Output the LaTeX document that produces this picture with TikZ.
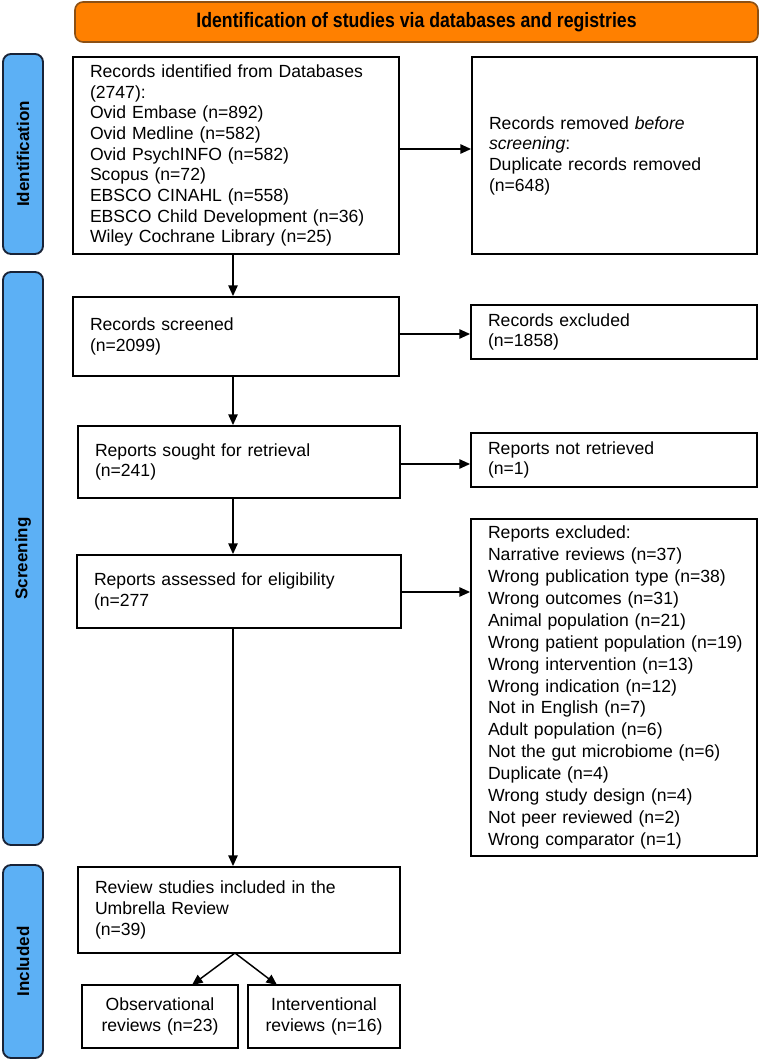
\documentclass[tikz,border=0pt]{standalone}
\usepackage{fontspec}
\setmainfont{Liberation Sans}
\usepackage{graphicx}
\usetikzlibrary{arrows.meta}
\definecolor{orng}{RGB}{255,128,0}
\definecolor{orngb}{RGB}{140,80,20}
\definecolor{blu}{RGB}{92,176,245}
\definecolor{blub}{RGB}{25,35,55}
\begin{document}
\begin{tikzpicture}[x=0.75pt,y=-0.75pt,
  box/.style={draw=black, line width=1.4pt, fill=white, inner xsep=12.75pt, inner ysep=0pt,
    align=left, font=\fontsize{13.2pt}{15.5pt}\selectfont},
  cbox/.style={draw=black, line width=1.4pt, fill=white, inner xsep=3pt, inner ysep=0pt,
    align=center, font=\fontsize{13.2pt}{15.5pt}\selectfont},
  sidelab/.style={draw=blub, line width=1.4pt, fill=blu, rounded corners=6pt, rotate=90,
    minimum height=30pt, inner sep=0pt, font=\bfseries\fontsize{12.75pt}{15pt}\selectfont},
  titlebox/.style={draw=orngb, line width=1.2pt, fill=orng, rounded corners=6pt,
    inner sep=0pt, font=\bfseries\fontsize{15.6pt}{18pt}\selectfont},
  arr/.style={line width=1.1pt, -{Triangle[length=8pt,width=7pt]}},
  ln/.style={line width=1.1pt}]
\useasboundingbox (0,0) rectangle (762,1062);
% title
\node[titlebox, minimum width=512.25pt, minimum height=30pt] (title) at (416.5,22)
  {\scalebox{0.85}[1]{Identification of studies via databases and registries}};
% side labels
\node[sidelab, minimum width=150pt] (idlab) at (23,154) {Identification};
\node[sidelab, minimum width=429.75pt] (sclab) at (23,558.5) {Screening};
\node[sidelab, minimum width=144.75pt] (inlab) at (23,961.5) {Included};
% boxes
\node[box, minimum width=244.5pt, minimum height=147.75pt, text width=219pt] (ident) at (236,155.5)
  {Records identified from Databases\\(2747):\\Ovid Embase (n=892)\\Ovid Medline (n=582)\\Ovid PsychINFO (n=582)\\Scopus (n=72)\\EBSCO CINAHL (n=558)\\EBSCO Child Development (n=36)\\Wiley Cochrane Library (n=25)};
\node[box, minimum width=213.75pt, minimum height=147.75pt, text width=188.25pt] (removed) at (614.5,155.5)
  {Records removed \textit{before}\\\textit{screening}:\\Duplicate records removed\\(n=648)};
\node[box, minimum width=244.5pt, minimum height=59.25pt, text width=219pt] (screened) at (236,336.5)
  {Records screened\\(n=2099)};
\node[box, minimum width=214.5pt, minimum height=40.5pt, text width=189pt] (excluded) at (614,332)
  {Records excluded\\(n=1858)};
\node[box, minimum width=241.5pt, minimum height=54pt, text width=216pt] (sought) at (239,462)
  {Reports sought for retrieval\\(n=241)};
\node[box, minimum width=214.5pt, minimum height=40.5pt, text width=189pt] (notretr) at (614,460)
  {Reports not retrieved\\(n=1)};
\node[box, minimum width=243pt, minimum height=54.75pt, text width=217.5pt] (assessed) at (239,591.5)
  {Reports assessed for eligibility\\(n=277};
\node[box, minimum width=214.5pt, minimum height=252.75pt, text width=189pt,
  font=\fontsize{13.2pt}{16.4pt}\selectfont] (repexcl) at (614,687.5)
  {Reports excluded:\\Narrative reviews (n=37)\\\mbox{Wrong publication type (n=38)}\\Wrong outcomes (n=31)\\Animal population (n=21)\\\mbox{Wrong patient population (n=19)}\\Wrong intervention (n=13)\\Wrong indication (n=12)\\Not in English (n=7)\\Adult population (n=6)\\\mbox{Not the gut microbiome (n=6)}\\Duplicate (n=4)\\Wrong study design (n=4)\\Not peer reviewed (n=2)\\Wrong comparator (n=1)};
\node[box, minimum width=241.5pt, minimum height=64.5pt, text width=216pt] (review) at (239,910)
  {Review studies included in the\\Umbrella Review\\(n=39)};
\node[cbox, minimum width=117pt, minimum height=47.25pt, text width=111pt] (obs) at (160,1016.5)
  {Observational\\reviews (n=23)};
\node[cbox, minimum width=114pt, minimum height=47.25pt, text width=108pt] (interv) at (324,1016.5)
  {Interventional\\reviews (n=16)};
% helper coordinates
\coordinate (spine) at (233,0);
\coordinate (ya) at (0,149);
\coordinate (yb) at (0,334);
\coordinate (yc) at (0,464);
\coordinate (yd) at (0,592);
\coordinate (fork) at (235,953);
\coordinate (obstip) at (192,985);
\coordinate (invtip) at (277,985);
% connectors
\draw[arr] (ident.south -| spine) -- (screened.north -| spine);
\draw[arr] (screened.south -| spine) -- (sought.north -| spine);
\draw[arr] (sought.south -| spine) -- (assessed.north -| spine);
\draw[arr] (assessed.south -| spine) -- (review.north -| spine);
\draw[arr] (ident.east |- ya) -- (removed.west |- ya);
\draw[arr] (screened.east |- yb) -- (excluded.west |- yb);
\draw[arr] (sought.east |- yc) -- (notretr.west |- yc);
\draw[arr] (assessed.east |- yd) -- (repexcl.west |- yd);
\draw[arr] (fork) -- (obstip);
\draw[arr] (fork) -- (invtip);
\end{tikzpicture}
\end{document}
